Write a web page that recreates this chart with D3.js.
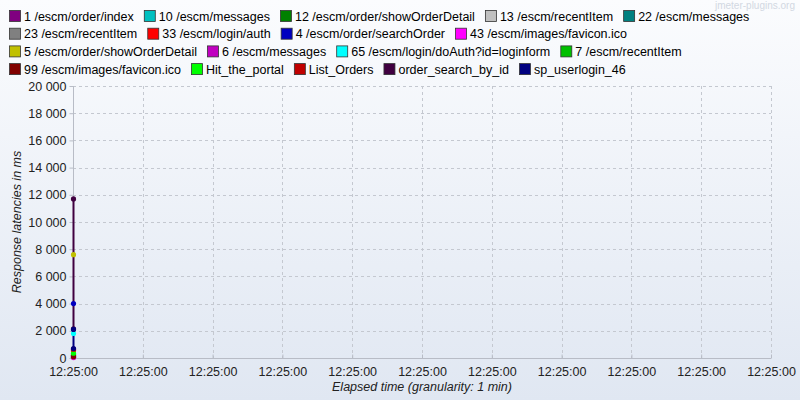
<!DOCTYPE html>
<html><head><meta charset="utf-8">
<script src="https://cdn.jsdelivr.net/npm/d3@7"></script>
<style>body{margin:0;}svg{display:block;font-family:"Liberation Sans",Arial,sans-serif;}</style>
</head><body><svg id="c" width="800" height="400"></svg>
<script>
const seriesNames = ["1 /escm/order/index","10 /escm/messages","12 /escm/order/showOrderDetail","13 /escm/recentItem","22 /escm/messages","23 /escm/recentItem","33 /escm/login/auth","4 /escm/order/searchOrder","43 /escm/images/favicon.ico","5 /escm/order/showOrderDetail","6 /escm/messages","65 /escm/login/doAuth?id=loginform","7 /escm/recentItem","99 /escm/images/favicon.ico","Hit_the_portal","List_Orders","order_search_by_id","sp_userlogin_46"];
const seriesColors = ["#800080","#00c0c0","#008000","#c0c0c0","#008080","#808080","#ff0000","#0000c0","#ff00ff","#c0c000","#c000c0","#00ffff","#00c000","#800000","#00ff00","#c00000","#400040","#000080"];
// each series: response times (ms) at elapsed index 0 (12:25:00)
const seriesValues = [[150],[80],[200],[60],[70],[60],[550],[4000],[30],[7600],[90],[1800],[250],[100],[350],[650],[11700,2150],[2100,700]];
const xTickLabels = ["12:25:00","12:25:00","12:25:00","12:25:00","12:25:00","12:25:00","12:25:00","12:25:00","12:25:00","12:25:00","12:25:00"];
const yTicks = [0,2000,4000,6000,8000,10000,12000,14000,16000,18000,20000];

const svg = d3.select("#c");
const defs = svg.append("defs");
const g1 = defs.append("linearGradient").attr("id","bg").attr("x1",0).attr("y1",0).attr("x2",0).attr("y2",1);
g1.append("stop").attr("offset","0").attr("stop-color","#fbfcfe");
g1.append("stop").attr("offset","1").attr("stop-color","#e0e7f2");
svg.append("rect").attr("width",800).attr("height",400).attr("fill","url(#bg)");

svg.append("text").attr("x",795).attr("y",9).attr("text-anchor","end").attr("font-size",10).attr("fill","#d2d8e2").text("jmeter-plugins.org");

const L=73,R=771,T=86,B=358;
const x = d3.scaleLinear().domain([0,10]).range([L,R]);
const y = d3.scaleLinear().domain([0,20000]).range([B,T]);

// legend (flow layout)
const leg = svg.append("g");
let lx=9, ly=10; const rowH=17.7;
seriesNames.forEach((n,i)=>{
  const it = leg.append("g");
  const t = it.append("text").attr("x",15).attr("y",10.5).attr("font-size",12.5).attr("fill","#000").text(n);
  const w = t.node().getComputedTextLength();
  const tw = 15 + w;
  if (lx + tw > 792) { lx=9; ly+=rowH; }
  it.attr("transform",`translate(${lx},${ly})`);
  it.append("rect").attr("x",0.5).attr("y",0.5).attr("width",11).attr("height",11).attr("fill",seriesColors[i]).attr("stroke","#333").attr("stroke-width",0.8);
  lx += tw + 10;
});

// grid
const grid = svg.append("g").attr("stroke","#c4c8d0").attr("stroke-dasharray","3,3").attr("stroke-width",1);
yTicks.forEach(v=>{ if(v>0) grid.append("line").attr("x1",L).attr("x2",R).attr("y1",Math.round(y(v))+0.5).attr("y2",Math.round(y(v))+0.5); });
d3.range(1,11).forEach(i=>{ grid.append("line").attr("x1",Math.round(x(i))+0.5).attr("x2",Math.round(x(i))+0.5).attr("y1",T).attr("y2",B); });

// axes
const yAxis = svg.append("g").attr("transform",`translate(${L+0.5},0)`)
  .call(d3.axisLeft(y).tickValues(yTicks).tickSize(4).tickPadding(3).tickFormat(d=>d3.format(",")(d).replace(/,/g," ")));
yAxis.select(".domain").attr("stroke","#b8bcc6").attr("d",`M0,${T}V${B}`);
yAxis.selectAll(".tick line").attr("stroke","#b8bcc6");
yAxis.selectAll("text").attr("font-size",12.5).attr("fill","#222").attr("font-family","Liberation Sans, Arial, sans-serif");

const xAxis = svg.append("g").attr("transform",`translate(0,${B+0.5})`)
  .call(d3.axisBottom(x).tickValues(d3.range(0,11)).tickSize(3).tickPadding(6).tickFormat((d,i)=>xTickLabels[i]));
xAxis.select(".domain").attr("stroke","#b8bcc6").attr("d",`M${L},0H${R}`);
xAxis.selectAll(".tick line").attr("stroke","#b8bcc6").attr("y2",-4);
xAxis.selectAll("text").attr("font-size",12.5).attr("fill","#222").attr("font-family","Liberation Sans, Arial, sans-serif");

svg.append("text").attr("transform","translate(21,222) rotate(-90)").attr("text-anchor","middle").attr("font-size",12.5).attr("font-style","italic").attr("fill","#222").text("Response latencies in ms");
svg.append("text").attr("x",422).attr("y",391).attr("text-anchor","middle").attr("font-size",12.5).attr("font-style","italic").attr("fill","#222").text("Elapsed time (granularity: 1 min)");

// series: lines first, then markers on top
const lines = svg.append("g"), marks = svg.append("g");
seriesValues.forEach((vals,i)=>{
  const c = seriesColors[i];
  if (vals.length>1) {
    lines.append("path").attr("d",d3.line().x(()=>x(0)+0.5).y(v=>y(v))(vals)).attr("stroke",c).attr("stroke-width",2).attr("fill","none");
  }
  vals.forEach(v=>{
    marks.append("circle").attr("cx",x(0)+0.5).attr("cy",y(v)).attr("r",2.6).attr("fill",c);
  });
});
</script></body></html>
